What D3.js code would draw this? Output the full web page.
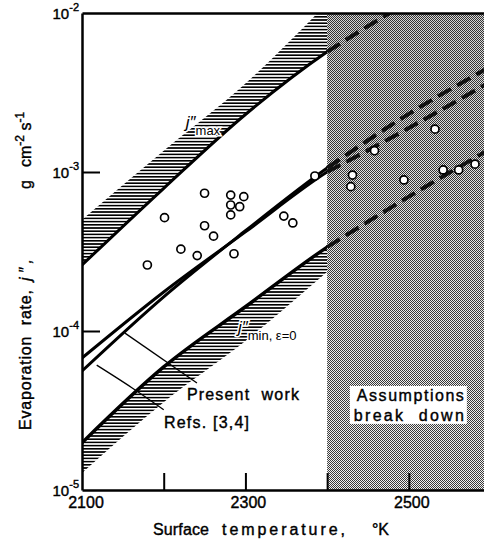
<!DOCTYPE html>
<html>
<head>
<meta charset="utf-8">
<script src="https://cdn.jsdelivr.net/npm/d3@7"></script>
<style>
body { margin: 0; background: #fff; }
svg { display: block; }
text { font-family: "Liberation Sans", Arial, sans-serif; fill: #000; }
</style>
</head>
<body>
<svg id="chart" width="484" height="541"></svg>
<script>
// ---- data ----
var tempTicks = [2200, 2300, 2400, 2500];
var tempLabels = [2100, 2300, 2500];
var rateTicks = [1e-3, 1e-4];
var rateLabels = [1e-2, 1e-3, 1e-4, 1e-5];
var rateExponents = ["-2", "-3", "-4", "-5"];

var lineTemps = [2100, 2200, 2300, 2400, 2500, 2600];
var jMaxLine = [2.6e-4, 7.9e-4, 2.3e-3, 5.7e-3, 1.17e-2, 2.1e-2];
var jMinLine = [1.98e-5, 5.94e-5, 1.42e-4, 3.37e-4, 7.0e-4, 1.40e-3];
var presentWork = [6.76e-5, 1.76e-4, 4.2e-4, 1.0e-3, 1.89e-3, 3.7e-3];
var refs34 = [5.6e-5, 1.64e-4, 4.27e-4, 1.06e-3, 2.32e-3, 4.6e-3];

// edge of the hatched bands
var hatchTemps = [2100, 2200, 2300, 2400];
var jMaxHatchEdge = [5.0e-4, 1.36e-3, 3.6e-3, 1.15e-2];
var jMinHatchEdge = [1.28e-5, 3.57e-5, 8.65e-5, 2.35e-4];

// measured points
var pointTemps = [2180, 2201, 2221, 2241, 2250, 2250, 2261, 2282, 2282, 2282, 2293, 2298, 2286, 2347, 2358, 2385,
	2429, 2431, 2458, 2494, 2532, 2542, 2561, 2581];
var pointRates = [2.60e-4, 5.16e-4, 3.27e-4, 2.98e-4, 7.35e-4, 4.59e-4, 3.95e-4, 7.16e-4, 6.20e-4, 5.37e-4, 6.05e-4, 7.0e-4, 3.06e-4, 5.28e-4, 4.78e-4, 9.44e-4,
	8.09e-4, 9.57e-4, 1.36e-3, 8.91e-4, 1.86e-3, 1.03e-3, 1.03e-3, 1.12e-3];

var breakdownTemp = 2400;

// leader lines of the labels
var presentLeaderT = [2152.6, 2240.7];
var presentLeaderJ = [9.7e-5, 4.71e-5];
var refsLeaderT = [2118, 2161, 2200];
var refsLeaderJ = [6.1e-5, 4.4e-5, 3.2e-5];

// ---- layout ----
var plotLeft = 82, plotRight = 484, plotTop = 13, plotBottom = 490;

var svg = d3.select("#chart");

var x = d3.scaleLinear().domain([2100, 2592]).range([plotLeft, plotRight]);
var y = d3.scaleLog().domain([1e-5, 1e-2]).range([plotBottom, plotTop]);

var defs = svg.append("defs");

defs.append("clipPath").attr("id", "plotClip")
	.append("rect")
	.attr("x", plotLeft).attr("y", plotTop)
	.attr("width", plotRight - plotLeft).attr("height", plotBottom - plotTop);

defs.append("clipPath").attr("id", "leftClip")
	.append("rect")
	.attr("x", plotLeft).attr("y", plotTop)
	.attr("width", x(breakdownTemp) - plotLeft).attr("height", plotBottom - plotTop);

var hatch = defs.append("pattern").attr("id", "hatch")
	.attr("patternUnits", "userSpaceOnUse")
	.attr("width", 8).attr("height", 3.2);
hatch.append("rect").attr("width", 8).attr("height", 1.6).attr("fill", "#000");

// halftone screen of the shaded region
var halftone = defs.append("pattern").attr("id", "halftone")
	.attr("patternUnits", "userSpaceOnUse")
	.attr("width", 2).attr("height", 2);
halftone.append("rect").attr("width", 2).attr("height", 2).attr("fill", "#f2f2f2");
halftone.append("rect").attr("width", 1).attr("height", 1).attr("fill", "#3a3a3a");
halftone.append("rect").attr("x", 1).attr("y", 1).attr("width", 1).attr("height", 1).attr("fill", "#3a3a3a");

var shadeGrad = defs.append("linearGradient").attr("id", "shadeGrad")
	.attr("x1", 0).attr("y1", 0).attr("x2", 0).attr("y2", 1);
shadeGrad.append("stop").attr("offset", "0").attr("stop-color", "#000").attr("stop-opacity", 0.12);
shadeGrad.append("stop").attr("offset", "0.6").attr("stop-color", "#000").attr("stop-opacity", 0.03);
shadeGrad.append("stop").attr("offset", "1").attr("stop-color", "#000").attr("stop-opacity", 0);

function zipLine(temps, values) {
	return temps.map(function(t, i) {
		return { T: t, j: values[i] };
	});
}

// ---- "assumptions break down" region ----
var shade = svg.append("g");
shade.append("rect")
	.attr("x", x(breakdownTemp)).attr("y", plotTop)
	.attr("width", plotRight - x(breakdownTemp)).attr("height", plotBottom - plotTop)
	.attr("fill", "url(#halftone)");
shade.append("rect")
	.attr("x", x(breakdownTemp)).attr("y", plotTop)
	.attr("width", plotRight - x(breakdownTemp)).attr("height", plotBottom - plotTop)
	.attr("fill", "url(#shadeGrad)");

var plot = svg.append("g").attr("clip-path", "url(#plotClip)");
var leftPart = plot.append("g").attr("clip-path", "url(#leftClip)");

// hatched bands
var band = d3.area()
	.x(function(d) { return x(d.T); })
	.y0(function(d) { return y(d.line); })
	.y1(function(d) { return y(d.edge); })
	.curve(d3.curveMonotoneX);

function bandData(lineVals, edge) {
	return hatchTemps.map(function(t, i) {
		return { T: t, line: lineVals[i], edge: edge[i] };
	});
}

leftPart.append("path").datum(bandData(jMaxLine, jMaxHatchEdge))
	.attr("d", band).attr("fill", "url(#hatch)");
leftPart.append("path").datum(bandData(jMinLine, jMinHatchEdge))
	.attr("d", band).attr("fill", "url(#hatch)");

// curves: solid below 2400 K, dashed above
var line = d3.line()
	.x(function(d) { return x(d.T); })
	.y(function(d) { return y(d.j); })
	.curve(d3.curveMonotoneX);

var curves = [
	{ values: jMaxLine, width: 3 },
	{ values: jMinLine, width: 3.5 },
	{ values: presentWork, width: 3 },
	{ values: refs34, width: 3 }
];

curves.forEach(function(c) {
	var pts = zipLine(lineTemps, c.values);
	leftPart.append("path").datum(pts)
		.attr("d", line)
		.attr("fill", "none")
		.attr("stroke", "#000")
		.attr("stroke-width", c.width);
	plot.append("path").datum(pts.filter(function(d) { return d.T >= breakdownTemp; }))
		.attr("d", line)
		.attr("fill", "none")
		.attr("stroke", "#111")
		.attr("stroke-width", 4)
		.attr("stroke-dasharray", "15 7");
}); // END: curves loop

// leader lines
var leader = d3.line()
	.x(function(d) { return x(d.T); })
	.y(function(d) { return y(d.j); })
	.curve(d3.curveCatmullRom);

plot.append("path").datum(zipLine(presentLeaderT, presentLeaderJ))
	.attr("d", leader).attr("fill", "none")
	.attr("stroke", "#000").attr("stroke-width", 1.3);
plot.append("path").datum(zipLine(refsLeaderT, refsLeaderJ))
	.attr("d", leader).attr("fill", "none")
	.attr("stroke", "#000").attr("stroke-width", 1.3);

// measured points
plot.selectAll("circle.point").data(zipLine(pointTemps, pointRates)).enter().append("circle")
	.attr("class", "point")
	.attr("cx", function(d) { return x(d.T); })
	.attr("cy", function(d) { return y(d.j); })
	.attr("r", 4)
	.attr("fill", "#fff")
	.attr("stroke", "#000")
	.attr("stroke-width", 1.7);

// ---- axes ----
var xAxis = d3.axisBottom(x).tickValues(tempTicks).tickSizeInner(-17).tickSizeOuter(0).tickFormat("");
var yAxis = d3.axisLeft(y).tickValues(rateTicks).tickSizeInner(-18).tickSizeOuter(0).tickFormat("");

var gx = svg.append("g").attr("transform", "translate(0," + plotBottom + ")").call(xAxis);
var gy = svg.append("g").attr("transform", "translate(" + plotLeft + ",0)").call(yAxis);
var gt = svg.append("g").attr("transform", "translate(0," + plotTop + ")")
	.call(d3.axisTop(x).tickValues([]).tickSizeOuter(0));

[gx, gy, gt].forEach(function(g) {
	g.select(".domain").attr("stroke", "#000").attr("stroke-width", 2.5);
	g.selectAll(".tick line").attr("stroke", "#000").attr("stroke-width", 2);
});

var textStroke = 0.4;

svg.selectAll("text.xlab").data(tempLabels).enter().append("text")
	.attr("class", "xlab")
	.attr("x", function(d, i) { return x(d) + (i === 0 ? 4 : 3); })
	.attr("y", plotBottom + 18)
	.attr("text-anchor", "middle")
	.attr("font-size", 16)
	.attr("stroke", "#000").attr("stroke-width", textStroke)
	.text(function(d) { return d; });

var ylab = svg.selectAll("text.ylab").data(rateLabels).enter().append("text")
	.attr("class", "ylab")
	.attr("x", plotLeft - 3)
	.attr("y", function(d) { return y(d) + 6; })
	.attr("text-anchor", "end")
	.attr("font-size", 15)
	.attr("stroke", "#000").attr("stroke-width", textStroke);
ylab.append("tspan").text("10");
ylab.append("tspan").attr("dy", -8).attr("font-size", 11)
	.text(function(d, i) { return rateExponents[i]; });

// axis titles, word by word to keep the wide lettering
function word(g, str, start, len, opts) {
	opts = opts || {};
	var t = g.append("text")
		.attr("x", start).attr("y", 0)
		.attr("font-size", opts.size || 16)
		.attr("stroke", "#000").attr("stroke-width", textStroke)
		.attr("textLength", len).attr("lengthAdjust", "spacing")
		.style("white-space", "pre");
	if (opts.italic) t.attr("font-style", "italic");
	return t.text(str);
}

var xt = svg.append("g").attr("transform", "translate(0,535)");
word(xt, "Surface", 153, 56);
word(xt, "temperature,", 222, 123);
word(xt, "\u00b0K", 372, 17);

var yt = svg.append("g").attr("transform", "translate(31,0) rotate(-90)");
word(yt, "Evaporation  rate,", -430, 140);
word(yt, "j\u2033,", -281, 22, { italic: true });
word(yt, "g", -189, 10);
var cm = yt.append("text").attr("x", -167).attr("y", 0).attr("font-size", 16)
	.attr("stroke", "#000").attr("stroke-width", textStroke).style("white-space", "pre");
cm.append("tspan").text("cm");
cm.append("tspan").attr("dy", -7).attr("font-size", 12).text("-2");
cm.append("tspan").attr("dy", 7).text(" s");
cm.append("tspan").attr("dy", -7).attr("font-size", 12).text("-1");

// ---- curve labels ----
function subLabel(T, j, sub) {
	var t = svg.append("text")
		.attr("x", x(T)).attr("y", y(j))
		.attr("stroke", "#fff").attr("stroke-width", 3)
		.attr("paint-order", "stroke");
	t.append("tspan").attr("font-size", 17).attr("font-style", "italic").text("j\u2033");
	t.append("tspan").attr("font-size", 13).attr("dy", 7).text(sub);
	return t;
}
subLabel(2227, 1.89e-3, "max");
subLabel(2290.8, 9.7e-5, "min, \u03b5=0");

function plainLabel(T, j, str, len) {
	return svg.append("text")
		.attr("x", x(T)).attr("y", y(j))
		.attr("font-size", 16)
		.attr("stroke", "#000").attr("stroke-width", textStroke)
		.attr("textLength", len).attr("lengthAdjust", "spacing")
		.style("white-space", "pre")
		.text(str);
}
plainLabel(2228.4, 3.68e-5, "Present  work", 112);
plainLabel(2200.3, 2.45e-5, "Refs. [3,4]", 85);

var boxG = svg.append("g");
var boxRect = boxG.append("rect").attr("fill", "#fff");
var a1 = plainLabel(2436.4, 3.63e-5, "Assumptions", 107);
var a2 = plainLabel(2432.7, 2.72e-5, "break  down", 110);
boxG.node().appendChild(a1.node());
boxG.node().appendChild(a2.node());
var b1 = a1.node().getBBox(), b2 = a2.node().getBBox();
var bx0 = Math.min(b1.x, b2.x) - 4, bx1 = Math.max(b1.x + b1.width, b2.x + b2.width) + 3;
boxRect.attr("x", bx0).attr("y", b1.y - 1)
	.attr("width", bx1 - bx0).attr("height", b2.y + b2.height - b1.y + 1);
</script>
</body>
</html>
